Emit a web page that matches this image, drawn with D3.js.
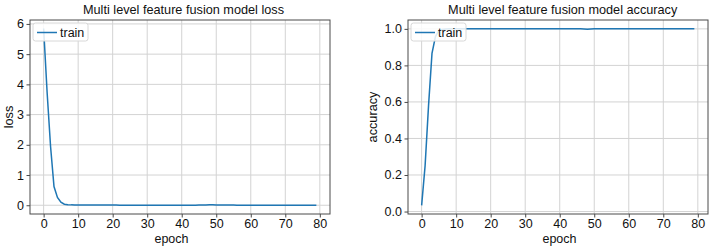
<!DOCTYPE html>
<html><head><meta charset="utf-8">
<script src="https://cdn.jsdelivr.net/npm/d3@7"></script>
<style>
html,body{margin:0;padding:0;background:#fff;}
svg{display:block;font-family:"Liberation Sans",Arial,sans-serif;}
</style></head>
<body><svg id="c" width="713" height="247"></svg>
<script>
const epochs = [0,1,2,3,4,5,6,7,8,9,10,11,12,13,14,15,16,17,18,19,20,21,22,23,24,25,26,27,28,29,30,31,32,33,34,35,36,37,38,39,40,41,42,43,44,45,46,47,48,49,50,51,52,53,54,55,56,57,58,59,60,61,62,63,64,65,66,67,68,69,70,71,72,73,74,75,76,77,78,79];
const lossValues = [5.85,3.75,1.95,0.62,0.26,0.10,0.035,0.018,0.012,0.009,0.008,0.007,0.006,0.006,0.005,0.005,0.005,0.004,0.004,0.004,0.004,0.004,0.003,0.003,0.003,0.003,0.003,0.003,0.003,0.003,0.003,0.003,0.003,0.003,0.003,0.003,0.003,0.003,0.003,0.003,0.003,0.003,0.003,0.003,0.003,0.004,0.006,0.010,0.016,0.012,0.008,0.006,0.005,0.004,0.004,0.004,0.003,0.003,0.003,0.003,0.003,0.003,0.003,0.003,0.003,0.003,0.003,0.003,0.003,0.003,0.003,0.003,0.003,0.003,0.003,0.003,0.003,0.003,0.003,0.003];
const accValues = [0.034,0.25,0.58,0.866,0.958,0.99,0.997,0.999,1.0,1.0,1.0,1.0,1.0,1.0,1.0,1.0,1.0,1.0,1.0,1.0,1.0,1.0,1.0,1.0,1.0,1.0,1.0,1.0,1.0,1.0,1.0,1.0,1.0,1.0,1.0,1.0,1.0,1.0,1.0,1.0,1.0,1.0,1.0,1.0,1.0,1.0,1.0,0.999,0.998,0.999,1.0,1.0,1.0,1.0,1.0,1.0,1.0,1.0,1.0,1.0,1.0,1.0,1.0,1.0,1.0,1.0,1.0,1.0,1.0,1.0,1.0,1.0,1.0,1.0,1.0,1.0,1.0,1.0,1.0,1.0];
const xTicks = [0,10,20,30,40,50,60,70,80];
const lossTicks = [0,1,2,3,4,5,6];
const accTicks = [0.0,0.2,0.4,0.6,0.8,1.0];
const titles = ["Multi level feature fusion model loss","Multi level feature fusion model accuracy"];
const yLabels = ["loss","accuracy"];
const xLabel = "epoch";
const seriesName = "train";

const svg = d3.select("#c");
const LINE = "#1f77b4", GRID = "#d3d3d3", SPINE = "#4a4a4a", TXT = "#111";

function panel(o){
  const g = svg.append("g");
  const x = d3.scaleLinear().domain(o.xd).range([o.l, o.r]);
  const y = d3.scaleLinear().domain(o.yd).range([o.b, o.t]);
  g.append("g").selectAll("line").data(xTicks).join("line")
    .attr("x1", d=>x(d)).attr("x2", d=>x(d)).attr("y1", o.t).attr("y2", o.b)
    .attr("stroke", GRID).attr("stroke-width", 1);
  g.append("g").selectAll("line").data(o.yt).join("line")
    .attr("x1", o.l).attr("x2", o.r).attr("y1", d=>y(d)).attr("y2", d=>y(d))
    .attr("stroke", GRID).attr("stroke-width", 1);
  const line = d3.line().x((d,i)=>x(epochs[i])).y(d=>y(d));
  g.append("path").datum(o.vals).attr("d", line).attr("fill","none")
    .attr("stroke", LINE).attr("stroke-width", 1.5);
  const xa = d3.axisBottom(x).tickValues(xTicks).tickSize(3.5).tickPadding(2).tickFormat(d3.format("d"));
  const ya = d3.axisLeft(y).tickValues(o.yt).tickSize(3.5).tickPadding(2.5).tickFormat(o.fmt);
  const gx = g.append("g").attr("transform",`translate(0,${o.b})`).call(xa);
  const gy = g.append("g").attr("transform",`translate(${o.l},0)`).call(ya);
  [gx,gy].forEach(a=>{
    a.select(".domain").remove();
    a.selectAll("line").attr("stroke", SPINE);
    a.selectAll("text").attr("fill", TXT).style("font-size","12.5px").style("font-family","'Liberation Sans',Arial,sans-serif");
  });
  g.append("rect").attr("x", o.l).attr("y", o.t).attr("width", o.r-o.l).attr("height", o.b-o.t)
    .attr("fill","none").attr("stroke", SPINE).attr("stroke-width", 1);
  g.append("text").attr("x", o.tx).attr("y", 14).attr("text-anchor","middle")
    .style("font-size","12.7px").attr("fill", TXT).text(o.title);
  g.append("text").attr("x", o.ex).attr("y", 242.5).attr("text-anchor","middle")
    .style("font-size","12.5px").attr("fill", TXT).text(xLabel);
  g.append("text").attr("transform",`translate(${o.yx},${(o.t+o.b)/2}) rotate(-90)`)
    .attr("text-anchor","middle").style("font-size","12.7px").attr("fill", TXT).text(o.ylab);
  const lg = g.append("g");
  lg.append("rect").attr("x", o.l+3).attr("y", o.t+3).attr("width", 55).attr("height", 18)
    .attr("rx", 2.5).attr("fill","rgba(255,255,255,0.85)").attr("stroke","#d8d8d8");
  lg.append("line").attr("x1", o.l+7).attr("x2", o.l+27).attr("y1", o.t+12.5).attr("y2", o.t+12.5)
    .attr("stroke", LINE).attr("stroke-width", 1.5);
  lg.append("text").attr("x", o.l+30).attr("y", o.t+17).style("font-size","12.5px").attr("fill", TXT).text(seriesName);
}

panel({l:30, r:330, t:20, b:214, xd:[-3.95,82.95], yd:[-0.29,6.13], vals:lossValues, yt:lossTicks,
  fmt:d3.format("d"), title:titles[0], ylab:yLabels[0], tx:183.5, ex:171.5, yx:12.5});
panel({l:408, r:708, t:20, b:214, xd:[-3.95,82.95], yd:[-0.0135,1.0485], vals:accValues, yt:accTicks,
  fmt:d3.format(".1f"), title:titles[1], ylab:yLabels[1], tx:562.7, ex:559.5, yx:377});
</script></body></html>
